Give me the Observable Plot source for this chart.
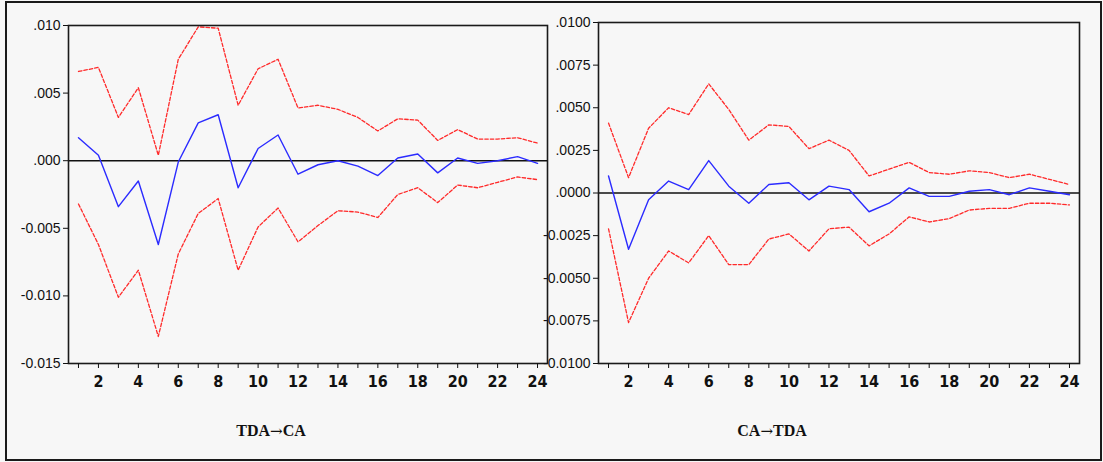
<!DOCTYPE html>
<html>
<head>
<meta charset="utf-8">
<script src="https://cdn.jsdelivr.net/npm/d3@7"></script>
<script src="https://cdn.jsdelivr.net/npm/@observablehq/plot@0.6"></script>
<style>
  html, body { margin: 0; padding: 0; background: #ffffff; }
  #page { position: relative; width: 1103px; height: 462px; background: #f7f7f7; overflow: hidden; }
  #border { position: absolute; left: 5px; top: 1px; width: 1093px; height: 456px; border: 2px solid #1a1a1a; box-sizing: content-box; }
  .panel { position: absolute; top: 0; }
  .caption { position: absolute; top: 422px; font-family: "Liberation Serif", "Times New Roman", serif; font-weight: bold; font-size: 16px; color: #111; transform: translateX(-50%); white-space: nowrap; }
  .arrow { font-family: "DejaVu Serif", "DejaVu Sans", serif; font-weight: normal; font-size: 15px; }
</style>
</head>
<body>
<div id="page">
  <div id="border"></div>
  <div id="left" class="panel" style="left:0px"></div>
  <div id="right" class="panel" style="left:548px"></div>
  <div class="caption" style="left:271px">TDA<span class="arrow">→</span>CA</div>
  <div class="caption" style="left:772px">CA<span class="arrow">→</span>TDA</div>
</div>
<script>
// ---- data ----
const horizons = [1,2,3,4,5,6,7,8,9,10,11,12,13,14,15,16,17,18,19,20,21,22,23,24];

// TDA -> CA
const tdaCa      = [0.0017, 0.0004, -0.0034, -0.0015, -0.0062, -0.0001, 0.0028, 0.0034, -0.0020, 0.0009, 0.0019, -0.0010, -0.0003, 0.0000, -0.0004, -0.0011, 0.0002, 0.0005, -0.0009, 0.0002, -0.0002, 0.0000, 0.0003, -0.0002];
const tdaCaUpper = [0.0066, 0.0069, 0.0032, 0.0054, 0.0004, 0.0075, 0.0099, 0.0098, 0.0041, 0.0068, 0.0075, 0.0039, 0.0041, 0.0038, 0.0032, 0.0022, 0.0031, 0.0030, 0.0015, 0.0023, 0.0016, 0.0016, 0.0017, 0.0013];
const tdaCaLower = [-0.0032, -0.0062, -0.0101, -0.0081, -0.0130, -0.0069, -0.0039, -0.0028, -0.0081, -0.0049, -0.0035, -0.0060, -0.0048, -0.0037, -0.0038, -0.0042, -0.0025, -0.0020, -0.0031, -0.0018, -0.0020, -0.0016, -0.0012, -0.0014];

// CA -> TDA
const caTda      = [0.0010, -0.0033, -0.0004, 0.0007, 0.0002, 0.0019, 0.0004, -0.0006, 0.0005, 0.0006, -0.0004, 0.0004, 0.0002, -0.0011, -0.0006, 0.0003, -0.0002, -0.0002, 0.0001, 0.0002, -0.0001, 0.0003, 0.0001, -0.0001];
const caTdaUpper = [0.0041, 0.0009, 0.0038, 0.0050, 0.0046, 0.0064, 0.0049, 0.0031, 0.0040, 0.0039, 0.0026, 0.0031, 0.0025, 0.0010, 0.0014, 0.0018, 0.0012, 0.0011, 0.0013, 0.0012, 0.0009, 0.0011, 0.0008, 0.0005];
const caTdaLower = [-0.0021, -0.0076, -0.0050, -0.0034, -0.0041, -0.0025, -0.0042, -0.0042, -0.0027, -0.0024, -0.0034, -0.0021, -0.0020, -0.0031, -0.0024, -0.0014, -0.0017, -0.0015, -0.0010, -0.0009, -0.0009, -0.0006, -0.0006, -0.0007];

// tick labels
const leftYTicks  = [-0.015, -0.010, -0.005, 0.000, 0.005, 0.010];
const rightYTicks = [-0.0100, -0.0075, -0.0050, -0.0025, 0.0000, 0.0025, 0.0050, 0.0075, 0.0100];
const xLabelTicks = [2,4,6,8,10,12,14,16,18,20,22,24];

// ---- drawing ----
const fmt = (dec) => (d) => d3.format("." + dec + "f")(d).replace(/^(-?)0\./, "$1.").replace("−", "-");

function panel(resp, upper, lower, yDomain, yTicks, dec, opts) {
  const rows = (vals) => horizons.map((h, i) => ({h, v: vals[i]}));
  return Plot.plot({
    width: opts.width,
    height: 390,
    marginLeft: opts.marginLeft,
    marginRight: opts.marginRight,
    marginTop: opts.marginTop,
    marginBottom: opts.marginBottom,
    style: {background: "transparent", color: "#111", overflow: "visible"},
    x: {domain: [0.5, 24.5]},
    y: {domain: yDomain},
    marks: [
      Plot.line(rows(upper), {x: "h", y: "v", stroke: "#ff2a2a", strokeWidth: 1.3, strokeDasharray: "3.5,2"}),
      Plot.line(rows(lower), {x: "h", y: "v", stroke: "#ff2a2a", strokeWidth: 1.3, strokeDasharray: "3.5,2"}),
      Plot.ruleY([0], {stroke: "#111", strokeWidth: 1.5}),
      Plot.line(rows(resp), {x: "h", y: "v", stroke: "#2b2bff", strokeWidth: 1.4}),
      Plot.frame({stroke: "#1a1a1a", strokeWidth: 1.6}),
      Plot.axisY({ticks: yTicks, tickFormat: fmt(dec), tickSize: 5, tickPadding: 3,
                  fontSize: 14, fontFamily: "Liberation Sans, Arial, sans-serif", label: null}),
      Plot.axisX({ticks: horizons, tickFormat: () => "", tickSize: 5, label: null}),
      Plot.axisX({ticks: xLabelTicks, tickFormat: (d) => String(d), tickSize: 0, tickPadding: 12,
                  fontSize: 16, fontWeight: "bold",
                  fontFamily: "Liberation Sans Narrow, Arial Narrow, DejaVu Sans Condensed, sans-serif", label: null})
    ]
  });
}

document.getElementById("left").append(
  panel(tdaCa, tdaCaUpper, tdaCaLower, [-0.015, 0.010], leftYTicks, 3,
        {width: 560, marginLeft: 68, marginRight: 13, marginTop: 25, marginBottom: 27})
);
document.getElementById("right").append(
  panel(caTda, caTdaUpper, caTdaLower, [-0.0100, 0.0100], rightYTicks, 4,
        {width: 555, marginLeft: 50, marginRight: 24, marginTop: 22, marginBottom: 27})
);
</script>
</body>
</html>
